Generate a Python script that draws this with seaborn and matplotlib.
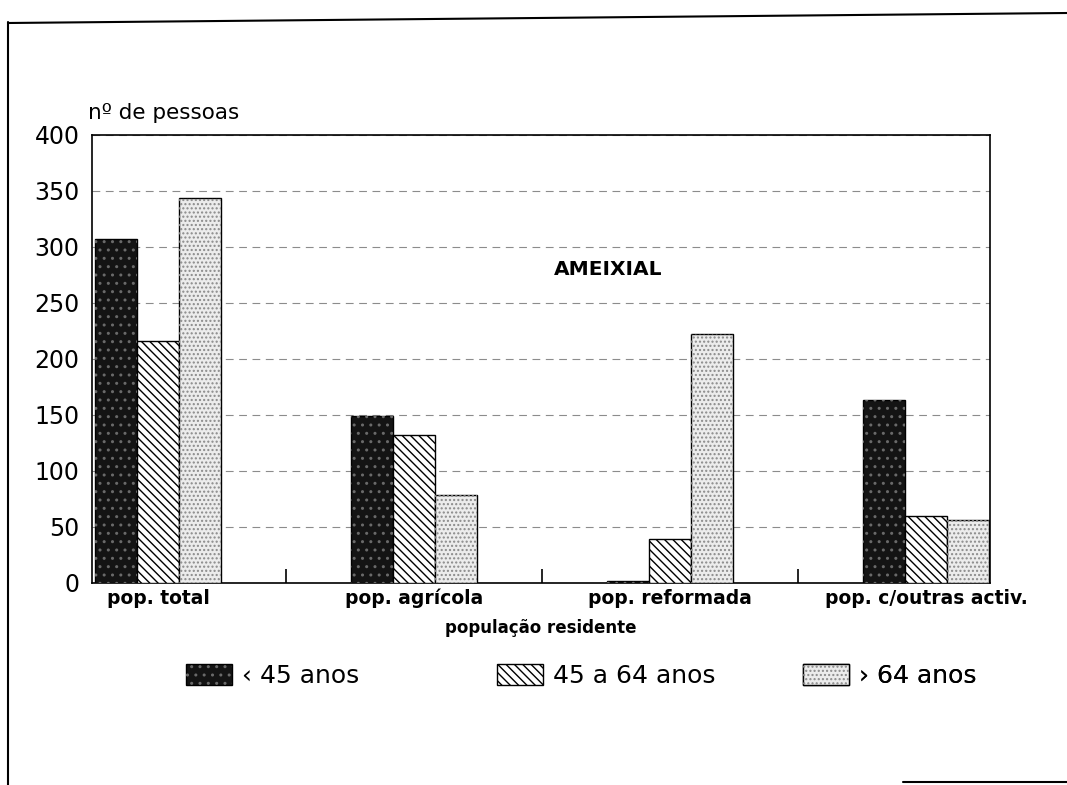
import matplotlib
matplotlib.use("Agg")
import matplotlib.pyplot as plt
import seaborn as sns
import pandas as pd
from matplotlib.patches import Patch, Rectangle
from matplotlib.lines import Line2D

categories = ["pop. total", "pop. agrícola", "pop. reformada", "pop. c/outras activ."]
groups = ["‹ 45 anos", "45 a 64 anos", "› 64 anos"]
v_lt45 = [307, 149, 2, 163]
v_45_64 = [216, 132, 39, 60]
v_gt64 = [344, 79, 222, 56]
yticks = [0, 50, 100, 150, 200, 250, 300, 350, 400]

rows = []
for g, vals in zip(groups, [v_lt45, v_45_64, v_gt64]):
    for c, v in zip(categories, vals):
        rows.append({"cat": c, "grp": g, "val": v})
df = pd.DataFrame(rows)

sns.set_theme(style="white")
plt.rcParams["font.family"] = ["DejaVu Sans"]
plt.rcParams["hatch.linewidth"] = 1.0
plt.rcParams["text.color"] = "black"
plt.rcParams["axes.labelcolor"] = "black"
plt.rcParams["xtick.color"] = "black"
plt.rcParams["ytick.color"] = "black"

fig = plt.figure(figsize=(10.67, 7.85), dpi=100)
ax = fig.add_axes([92/1067, 1-583/785, (990-92)/1067, (583-135)/785])

sns.barplot(data=df, x="cat", y="val", hue="grp", order=categories,
            hue_order=groups, width=0.49, ax=ax, legend=False,
            edgecolor="black", linewidth=1.0, saturation=1)

styles = [
    dict(face="#141414", hatch="..", hcolor="#6a6a6a"),
    dict(face="white", hatch="\\\\\\\\", hcolor="black"),
    dict(face="#ececec", hatch="....", hcolor="#8a8a8a"),
]
for cont, st in zip(ax.containers, styles):
    for bar in cont:
        bar.set_facecolor(st["face"])
        bar.set_edgecolor("black")
        bar.set_zorder(3)
        ov = Rectangle(bar.get_xy(), bar.get_width(), bar.get_height(),
                       fill=False, hatch=st["hatch"], edgecolor=st["hcolor"],
                       linewidth=0, zorder=3.5)
        ax.add_patch(ov)

ax.set_xlim(-0.258, 3.25)
ax.set_ylim(0, 400)
ax.set_yticks(yticks)
ax.set_yticklabels([str(t) for t in yticks], fontsize=17)
ax.tick_params(axis="y", length=0, pad=9, labelcolor="black")
ax.tick_params(axis="x", which="major", length=0, pad=4, labelsize=13.5, labelcolor="black")
for lab in ax.get_xticklabels():
    lab.set_fontweight("bold")
ax.set_xticks([0.5, 1.5, 2.5], minor=True)
ax.tick_params(axis="x", which="minor", bottom=True, direction="in", length=10,
               width=1.2, color="black")

ax.yaxis.grid(True, color="#8c8c8c", linestyle=(0, (7, 5)), linewidth=0.8, zorder=0)
ax.set_axisbelow(True)
for s in ax.spines.values():
    s.set_color("black")
    s.set_linewidth(1.2)

ax.set_xlabel("população residente", fontsize=12, fontweight="bold", color="black")
ax.xaxis.set_label_coords(0.5, -0.08)
ax.set_ylabel("")
fig.text(88/1067, 1-113/785, "nº de pessoas", fontsize=15.5, ha="left", va="center",
         color="black")
ax.text(0.575, 0.7, "AMEIXIAL", transform=ax.transAxes, fontsize=14.5,
        fontweight="bold", ha="center", va="center", color="black")

# legend: three entries at fixed positions, as in the original
legend_x = [0.1047, 0.451, 0.7918]
for st, lab, lx in zip(styles, groups, legend_x):
    base = Patch(facecolor=st["face"], edgecolor="black", linewidth=1.0)
    hat = Patch(fill=False, hatch=st["hatch"], edgecolor=st["hcolor"], linewidth=0)
    leg = ax.legend([(base, hat)], [lab], loc="center left",
                    bbox_to_anchor=(lx, -0.2076), frameon=False, fontsize=18,
                    handlelength=1.85, handleheight=0.9, handletextpad=0.4,
                    borderpad=0, borderaxespad=0)
    for t in leg.get_texts():
        t.set_color("black")
    ax.add_artist(leg)

# page border of the scanned document
fig.add_artist(Line2D([8/1067, 8/1067], [0, 1-22/785], color="black", lw=1.5,
                      transform=fig.transFigure))
fig.add_artist(Line2D([8/1067, 1], [1-23/785, 1-13/785], color="black", lw=1.5,
                      transform=fig.transFigure))
fig.add_artist(Line2D([903/1067, 1], [1-782/785, 1-782/785], color="black", lw=1.5,
                      transform=fig.transFigure))

fig.savefig("out.png", dpi=100)
